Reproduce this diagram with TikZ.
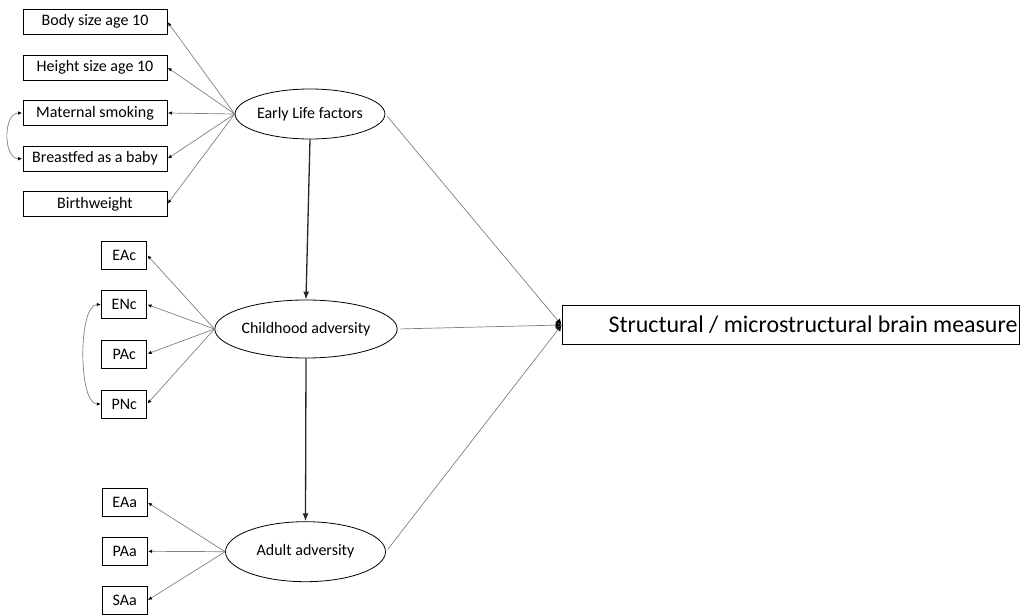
\documentclass[tikz,border=0pt]{standalone}
\usepackage{fontspec}
\setmainfont{Carlito}
\usetikzlibrary{arrows.meta,shapes.geometric}
\begin{document}
\begin{tikzpicture}[x=1pt,y=-1pt,
  ind/.style={draw=black,line width=0.8pt,inner sep=0pt,minimum height=25pt,font=\fontsize{16}{18}\selectfont},
  wide/.style={ind,minimum width=144pt},
  small/.style={ind,minimum width=45pt,minimum height=28pt},
  lat/.style={draw=black,ellipse,line width=0.8pt,inner sep=0pt,font=\fontsize{16}{18}\selectfont},
  load/.style={draw=black!50,line width=0.7pt,-{Latex[length=4pt,width=3.5pt,color=black]},shorten >=0.5pt},
  cov/.style={draw=black!50,line width=0.7pt,{Latex[length=4pt,width=3.5pt,color=black]}-{Latex[length=4pt,width=3.5pt,color=black]},shorten >=0.5pt,shorten <=0.5pt},
  reg/.style={draw=black!85,line width=1.3pt,-{Latex[length=8pt,width=6pt]}},
  toout/.style={draw=black!50,line width=0.7pt,-{Latex[length=6pt,width=6pt,color=black]},shorten <=3pt}
]
\useasboundingbox (0,0) rectangle (1020,615);

% Early life
\node[wide] (body) at (95,21.8) {Body size age 10};
\node[wide] (height) at (95,67.5) {Height size age 10};
\node[wide] (smok) at (95,113) {Maternal smoking};
\node[wide] (breast) at (95,158.7) {Breastfed as a baby};
\node[wide] (birth) at (95,204) {Birthweight};
\node[lat,minimum width=148pt,minimum height=50pt] (early) at (310,114) {Early Life factors};

% Childhood
\node[small] (eac) at (124.2,255) {EAc};
\node[small] (enc) at (124.2,304.5) {ENc};
\node[small] (pac) at (124.2,354) {PAc};
\node[small] (pnc) at (124.2,404) {PNc};
\node[lat,minimum width=160pt,minimum height=58pt] (child) at (306,329) {Childhood adversity};

% Adult
\node[small] (eaa) at (124.7,502.5) {EAa};
\node[small] (paa) at (124.7,551.3) {PAa};
\node[small] (saa) at (124.7,600.3) {SAa};
\node[lat,minimum width=160pt,minimum height=60pt] (adult) at (305.5,551.7) {Adult adversity};

% Outcome
\node[draw=black,line width=0.8pt,minimum width=457.5pt,minimum height=39pt,inner xsep=2pt,inner ysep=0pt,font=\fontsize{23.9}{26}\selectfont] (brain) at (790.75,325) {\hbox to 453.5pt{\hfill Structural / microstructural brain measure}};

% loadings
\foreach \t in {body,height,smok,breast,birth} \draw[load] (early.west) -- (\t.east);
\foreach \t in {eac,enc,pac,pnc} \draw[load] (child.west) -- (\t.east);
\foreach \t in {eaa,paa,saa} \draw[load] (adult.west) -- (\t.east);

% covariances
\draw[cov] (smok.west) to[out=180,in=180,looseness=1.1] (breast.west);
\draw[cov] (enc.west) to[out=180,in=180,looseness=0.6] (pnc.west);

% structural paths
\draw[reg] (early.south) -- (child.north);
\draw[reg] (child.south) -- (adult.north);
\draw[toout] (early.east) -- (brain.west);
\draw[toout] (child.east) -- (brain.west);
\draw[toout] (adult.east) -- (brain.west);
\end{tikzpicture}
\end{document}
